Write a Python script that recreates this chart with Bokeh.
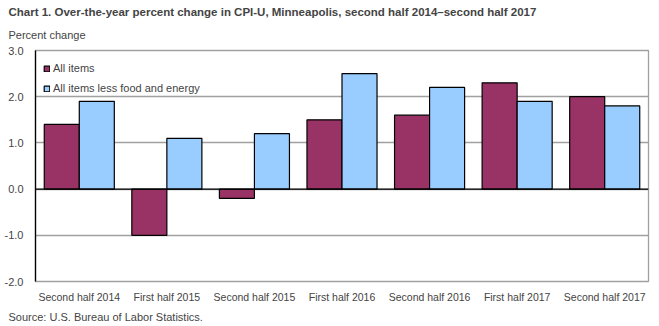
from bokeh.plotting import figure
from bokeh.models import ColumnDataSource, FactorRange, Span, Title, FixedTicker, Legend, LegendItem, PrintfTickFormatter
from bokeh.transform import dodge
from bokeh.embed import file_html
from bokeh.resources import INLINE

categories = ["Second half 2014", "First half 2015", "Second half 2015", "First half 2016",
              "Second half 2016", "First half 2017", "Second half 2017"]
all_items = [1.4, -1.0, -0.2, 1.5, 1.6, 2.3, 2.0]
core_items = [1.9, 1.1, 1.2, 2.5, 2.2, 1.9, 1.8]
y_ticks = [-2.0, -1.0, 0.0, 1.0, 2.0, 3.0]

FONT = "Liberation Sans"

src = ColumnDataSource(dict(cat=categories, a=all_items, c=core_items))

p = figure(width=659, height=326, x_range=FactorRange(*categories, range_padding=0),
           y_range=(-2.0, 3.0), output_backend="svg", toolbar_location=None,
           min_border_left=35, min_border_right=11, min_border_top=50, min_border_bottom=45)

r1 = p.vbar(x=dodge("cat", -0.2, range=p.x_range), top="a", width=0.4, source=src,
            fill_color="#993366", line_color="black", line_width=1.2)
r2 = p.vbar(x=dodge("cat", 0.2, range=p.x_range), top="c", width=0.4, source=src,
            fill_color="#99CCFF", line_color="black", line_width=1.2)

p.add_layout(Span(location=0, dimension="width", line_color="black", line_width=1.3))

p.title.text = "Chart 1. Over-the-year percent change in CPI-U, Minneapolis, second half 2014\u2013second  half 2017"
p.title.text_font = FONT
p.title.text_font_style = "bold"
p.title.text_font_size = "11.5px"
p.title.offset = -27
p.title.standoff = 0

sub = Title(text="Percent change", text_font=FONT, text_font_size="11px",
            text_font_style="normal", offset=-27, standoff=19)
p.add_layout(sub, "above")

src_title = Title(text="Source: U.S. Bureau of Labor Statistics.", text_font=FONT,
                  text_font_size="11px", text_font_style="normal", offset=-27, standoff=7)
p.add_layout(src_title, "below")

p.outline_line_color = "#a0a0a0"
p.outline_line_width = 1.3
p.xgrid.grid_line_color = None
p.ygrid.grid_line_color = "#a0a0a0"
p.ygrid.grid_line_width = 1.3

p.yaxis.ticker = FixedTicker(ticks=y_ticks)
p.yaxis.formatter = PrintfTickFormatter(format="%.1f")
p.yaxis.axis_line_color = "black"
p.yaxis.axis_line_width = 1.3
p.yaxis.major_tick_line_color = None
p.yaxis.minor_tick_line_color = None
p.yaxis.major_tick_out = 0
p.yaxis.major_tick_in = 0
p.yaxis.major_label_text_font = FONT
p.yaxis.major_label_text_font_size = "11px"
p.yaxis.major_label_standoff = 12

p.xaxis.axis_line_color = None
p.xaxis.major_tick_line_color = None
p.xaxis.major_tick_out = 0
p.xaxis.major_tick_in = 0
p.xaxis.major_label_text_font = FONT
p.xaxis.major_label_text_font_size = "10.5px"
p.xaxis.major_label_standoff = 9

legend = Legend(items=[LegendItem(label="All items", renderers=[r1]),
                       LegendItem(label="All items less food and energy", renderers=[r2])],
                location="top_left", border_line_color=None, background_fill_alpha=0,
                glyph_width=7, glyph_height=7, label_standoff=3, spacing=0,
                margin=8, padding=3, label_text_font=FONT, label_text_font_size="11px",
                label_height=20)
p.add_layout(legend)

open("out.html", "w").write(file_html(p, INLINE))
